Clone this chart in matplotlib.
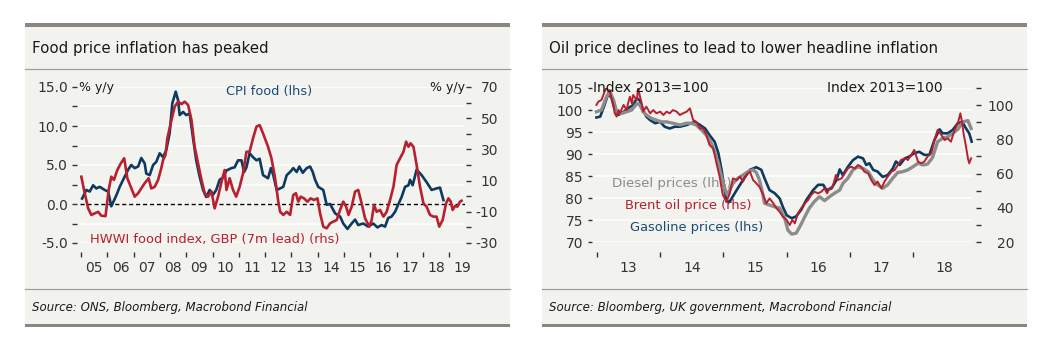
import matplotlib
matplotlib.use('Agg')
import matplotlib.pyplot as plt
import numpy as np
from matplotlib.patches import Rectangle
from matplotlib.lines import Line2D
from matplotlib.ticker import FuncFormatter

plt.rcParams['font.family'] = ['DejaVu Sans']
plt.rcParams['axes.unicode_minus'] = False

# ---------------- data: left chart ----------------
cpi_t = [2005.04, 2005.20, 2005.33, 2005.46, 2005.58, 2005.71, 2005.90, 2006.03, 2006.15, 2006.34,
         2006.47, 2006.60, 2006.79, 2006.91, 2007.04, 2007.17, 2007.29, 2007.42, 2007.48, 2007.61,
         2007.74, 2007.86, 2007.99, 2008.12, 2008.24, 2008.37, 2008.47, 2008.60, 2008.69, 2008.75,
         2008.88, 2009.00, 2009.13, 2009.26, 2009.38, 2009.51, 2009.64, 2009.76, 2009.89, 2010.02,
         2010.14, 2010.27, 2010.40, 2010.53, 2010.72, 2010.84, 2010.97, 2011.10, 2011.20, 2011.29,
         2011.41, 2011.54, 2011.67, 2011.79, 2011.92, 2012.11, 2012.22, 2012.31, 2012.44, 2012.57,
         2012.69, 2012.82, 2012.95, 2013.07, 2013.20, 2013.30, 2013.43, 2013.58, 2013.71, 2013.81,
         2013.90, 2014.02, 2014.21, 2014.34, 2014.47, 2014.66, 2014.85, 2014.97, 2015.13, 2015.29,
         2015.42, 2015.54, 2015.73, 2015.92, 2016.11, 2016.27, 2016.43, 2016.56, 2016.68, 2016.81,
         2016.94, 2017.07, 2017.19, 2017.32, 2017.45, 2017.51, 2017.61, 2017.76, 2017.95, 2018.14,
         2018.33, 2018.52, 2018.65, 2018.78]
cpi_v = [0.7, 1.8, 1.6, 2.4, 2.0, 2.2, 1.8, 1.6, -0.3, 1.1,
         2.2, 3.1, 4.4, 5.0, 4.6, 4.8, 5.9, 5.2, 3.9, 3.7,
         5.0, 5.4, 6.5, 6.0, 6.9, 9.1, 12.9, 14.4, 13.3, 11.4,
         11.8, 11.4, 11.6, 8.4, 5.6, 3.5, 1.8, 0.9, 1.8, 1.2,
         1.8, 3.1, 3.4, 4.3, 4.6, 4.7, 5.6, 5.6, 4.1, 4.7,
         6.5, 6.0, 5.6, 5.8, 3.7, 3.3, 4.6, 3.7, 1.8, 2.0,
         2.2, 3.7, 4.1, 4.6, 4.1, 4.8, 4.0, 4.6, 4.8, 4.1,
         3.1, 2.2, 1.8, -0.1, 0.0, -1.2, -1.6, -2.5, -3.2, -2.5,
         -2.0, -2.7, -2.5, -2.9, -2.5, -3.0, -2.7, -2.9, -1.8, -1.6,
         -1.0, 0.0, 0.9, 2.2, 2.4, 3.1, 2.4, 4.4, 3.7, 2.8,
         1.8, 2.0, 2.1, 0.5]

hwwi_t = [2005.01, 2005.14, 2005.27, 2005.39, 2005.52, 2005.65, 2005.77, 2005.93, 2006.05, 2006.15,
          2006.25, 2006.38, 2006.51, 2006.64, 2006.76, 2006.89, 2007.04, 2007.17, 2007.29, 2007.42,
          2007.57, 2007.67, 2007.80, 2007.93, 2008.05, 2008.12, 2008.21, 2008.28, 2008.41, 2008.56,
          2008.69, 2008.82, 2008.94, 2009.07, 2009.20, 2009.32, 2009.45, 2009.58, 2009.70, 2009.83,
          2009.96, 2010.08, 2010.21, 2010.36, 2010.46, 2010.53, 2010.65, 2010.78, 2010.90, 2011.03,
          2011.16, 2011.29, 2011.41, 2011.54, 2011.67, 2011.79, 2011.92, 2012.11, 2012.24, 2012.37,
          2012.44, 2012.50, 2012.57, 2012.69, 2012.82, 2012.95, 2013.07, 2013.17, 2013.26, 2013.35,
          2013.48, 2013.61, 2013.73, 2013.86, 2013.99, 2014.09, 2014.21, 2014.34, 2014.47, 2014.59,
          2014.72, 2014.85, 2014.97, 2015.08, 2015.17, 2015.29, 2015.42, 2015.54, 2015.67, 2015.80,
          2015.96, 2016.05, 2016.14, 2016.24, 2016.37, 2016.50, 2016.62, 2016.75, 2016.88, 2017.00,
          2017.13, 2017.26, 2017.36, 2017.45, 2017.53, 2017.64, 2017.76, 2017.89, 2018.02, 2018.14,
          2018.27, 2018.40, 2018.52, 2018.62, 2018.75, 2018.88, 2018.97, 2019.06, 2019.13, 2019.22,
          2019.31, 2019.41, 2019.47]
hwwi_v = [12.5, 1.9, -7.8, -12.0, -11.0, -10.0, -12.5, -12.8, 4.0, 12.5,
          10.4, 16.8, 21.0, 24.3, 11.5, 6.0, -0.3, 1.9, 5.0, 8.3,
          11.5, 5.0, 6.0, 10.4, 17.9, 23.2, 26.4, 37.0, 46.7, 57.4,
          60.6, 59.0, 60.6, 58.5, 48.8, 31.7, 21.0, 10.4, 1.9, -0.3,
          3.0, -7.8, -0.3, 10.4, 16.8, 4.0, 11.5, 4.0, -0.3, 6.0,
          14.7, 28.5, 28.5, 37.1, 44.6, 45.6, 40.3, 31.7, 24.3, 12.5,
          4.0, -3.5, -10.0, -12.0, -10.0, -12.0, 0.8, 1.9, -3.5, -0.3,
          -1.4, -3.5, -1.4, -2.4, -1.4, -11.0, -19.5, -20.6, -17.4, -16.3,
          -15.3, -8.8, -3.5, -6.7, -12.0, -6.7, 2.9, 4.0, -4.6, -14.2,
          -19.5, -15.3, -5.6, -10.0, -8.8, -13.1, -10.0, -2.4, 6.1, 20.0,
          24.3, 28.5, 35.0, 31.7, 33.9, 31.7, 20.0, 6.1, -4.6, -6.7,
          -12.0, -13.1, -13.1, -19.5, -15.3, -4.6, -1.4, -3.5, -8.8, -6.3,
          -6.7, -3.5, -2.9]

left_years = list(range(2005, 2020))
left_year_labels = ['05', '06', '07', '08', '09', '10', '11', '12', '13', '14', '15', '16', '17', '18', '19']

# ---------------- data: right chart ----------------
gas_t = [2012.99, 2013.05, 2013.10, 2013.18, 2013.23, 2013.28, 2013.34, 2013.42, 2013.49, 2013.57,
         2013.63, 2013.68, 2013.73, 2013.78, 2013.84, 2013.92, 2014.00, 2014.07, 2014.15, 2014.23,
         2014.31, 2014.42, 2014.49, 2014.55, 2014.63, 2014.71, 2014.78, 2014.86, 2014.92, 2014.97,
         2015.01, 2015.05, 2015.10, 2015.21, 2015.31, 2015.42, 2015.52, 2015.60, 2015.65, 2015.73,
         2015.81, 2015.89, 2015.94, 2016.00, 2016.08, 2016.15, 2016.23, 2016.31, 2016.42, 2016.50,
         2016.58, 2016.63, 2016.71, 2016.79, 2016.84, 2016.89, 2016.97, 2017.05, 2017.13, 2017.21,
         2017.26, 2017.31, 2017.37, 2017.44, 2017.52, 2017.60, 2017.68, 2017.73, 2017.79, 2017.87,
         2017.94, 2018.02, 2018.10, 2018.18, 2018.26, 2018.34, 2018.42, 2018.47, 2018.55, 2018.63,
         2018.71, 2018.78, 2018.84, 2018.89, 2018.93]
gas_v = [98.3, 98.5, 100.4, 103.8, 102.7, 100.0, 98.9, 99.6, 100.4, 101.1,
         102.7, 102.1, 100.0, 98.5, 97.7, 97.0, 97.3, 96.2, 95.8, 96.2,
         96.2, 96.6, 97.0, 97.3, 96.6, 95.8, 94.3, 92.8, 90.2, 86.4,
         82.6, 79.2, 79.2, 81.8, 84.1, 86.4, 87.0, 86.4, 84.5, 81.8,
         81.1, 79.9, 78.0, 76.1, 75.4, 75.8, 77.3, 79.5, 81.8, 83.0,
         83.0, 81.8, 82.2, 84.1, 86.5, 85.2, 87.1, 88.6, 89.4, 89.0,
         87.5, 87.9, 86.4, 86.0, 84.8, 85.2, 86.7, 88.3, 87.5, 89.0,
         89.4, 90.2, 90.5, 89.8, 89.8, 93.2, 95.6, 94.7, 94.7, 95.5,
         97.0, 97.3, 95.8, 94.7, 92.8]

diesel_t = [2012.99, 2013.07, 2013.15, 2013.20, 2013.26, 2013.31, 2013.39, 2013.47, 2013.55, 2013.63,
            2013.68, 2013.73, 2013.78, 2013.86, 2013.94, 2014.02, 2014.10, 2014.20, 2014.31, 2014.42,
            2014.49, 2014.57, 2014.65, 2014.73, 2014.81, 2014.86, 2014.92, 2014.97, 2015.02, 2015.06,
            2015.10, 2015.15, 2015.23, 2015.31, 2015.39, 2015.47, 2015.52, 2015.57, 2015.62, 2015.65,
            2015.73, 2015.81, 2015.89, 2015.97, 2016.02, 2016.08, 2016.15, 2016.21, 2016.29, 2016.36,
            2016.44, 2016.52, 2016.60, 2016.68, 2016.76, 2016.84, 2016.89, 2016.97, 2017.05, 2017.13,
            2017.21, 2017.29, 2017.37, 2017.44, 2017.52, 2017.60, 2017.68, 2017.76, 2017.84, 2017.92,
            2018.00, 2018.08, 2018.16, 2018.23, 2018.31, 2018.39, 2018.47, 2018.55, 2018.63, 2018.71,
            2018.79, 2018.87, 2018.92]
diesel_v = [99.6, 100.0, 103.0, 104.2, 102.3, 99.6, 99.2, 99.6, 100.0, 101.5,
            101.1, 99.6, 98.9, 98.1, 97.7, 97.3, 97.3, 97.0, 96.6, 97.0,
            97.0, 96.6, 95.5, 94.3, 92.4, 90.5, 87.9, 84.8, 82.2, 80.7,
            81.8, 83.3, 84.5, 85.2, 86.0, 86.4, 85.8, 84.1, 81.1, 78.8,
            78.4, 78.0, 77.7, 75.4, 72.7, 71.8, 72.0, 73.5, 75.8, 77.7,
            79.2, 80.3, 79.4, 80.3, 81.1, 81.8, 83.3, 84.5, 86.4, 87.1,
            86.7, 86.0, 84.1, 83.0, 82.2, 83.0, 84.5, 85.8, 86.0, 86.4,
            87.1, 87.9, 87.5, 87.7, 89.2, 92.8, 93.6, 93.9, 94.7, 95.6,
            97.3, 97.6, 95.8]

brent_t = [2012.99, 2013.02, 2013.07, 2013.13, 2013.15, 2013.18, 2013.20, 2013.23, 2013.26, 2013.28,
           2013.31, 2013.34, 2013.36, 2013.42, 2013.47, 2013.49, 2013.52, 2013.55, 2013.57, 2013.63,
           2013.65, 2013.68, 2013.70, 2013.73, 2013.78, 2013.84, 2013.89, 2013.94, 2014.00, 2014.05,
           2014.10, 2014.15, 2014.20, 2014.26, 2014.31, 2014.36, 2014.42, 2014.47, 2014.52, 2014.57,
           2014.63, 2014.68, 2014.73, 2014.78, 2014.84, 2014.89, 2014.94, 2014.99, 2015.05, 2015.10,
           2015.15, 2015.21, 2015.26, 2015.31, 2015.36, 2015.42, 2015.47, 2015.52, 2015.57, 2015.63,
           2015.68, 2015.73, 2015.79, 2015.84, 2015.89, 2015.94, 2016.00, 2016.05, 2016.09, 2016.13,
           2016.18, 2016.23, 2016.29, 2016.34, 2016.39, 2016.44, 2016.50, 2016.55, 2016.60, 2016.64,
           2016.68, 2016.73, 2016.78, 2016.81, 2016.87, 2016.92, 2016.97, 2017.02, 2017.08, 2017.13,
           2017.18, 2017.23, 2017.29, 2017.34, 2017.39, 2017.44, 2017.50, 2017.55, 2017.60, 2017.66,
           2017.71, 2017.76, 2017.81, 2017.87, 2017.92, 2017.97, 2018.02, 2018.08, 2018.13, 2018.18,
           2018.23, 2018.29, 2018.34, 2018.39, 2018.45, 2018.50, 2018.55, 2018.60, 2018.66, 2018.71,
           2018.75, 2018.78, 2018.80, 2018.83, 2018.87, 2018.89, 2018.92]
brent_v = [100.1, 102.0, 103.0, 108.8, 110.5, 107.9, 108.8, 104.0, 100.1, 95.2,
           93.3, 97.1, 95.2, 100.1, 97.1, 101.0, 104.9, 101.0, 105.9, 103.0,
           109.8, 104.9, 102.0, 96.2, 99.1, 95.2, 97.1, 95.2, 96.2, 94.2,
           96.2, 95.2, 97.1, 96.2, 94.2, 95.2, 96.2, 98.1, 91.3, 90.3,
           86.4, 86.4, 82.5, 76.7, 74.7, 66.0, 58.2, 47.5, 43.6, 48.4,
           57.2, 56.2, 58.2, 55.3, 59.2, 61.1, 56.2, 54.3, 52.3, 47.5,
           42.6, 45.5, 42.6, 39.7, 37.7, 34.8, 32.9, 29.9, 32.9, 30.9,
           36.8, 39.7, 42.6, 44.5, 47.5, 49.4, 48.4, 49.4, 51.4, 48.4,
           51.4, 52.3, 59.2, 56.2, 57.2, 60.1, 63.0, 64.0, 63.0, 65.0,
           64.0, 61.1, 60.1, 56.2, 53.3, 55.3, 51.4, 55.3, 58.2, 61.1,
           62.1, 65.0, 67.9, 68.9, 67.9, 70.8, 73.8, 67.0, 66.0, 67.0,
           69.9, 71.8, 79.6, 85.5, 82.5, 79.6, 80.6, 78.6, 85.5, 89.4,
           95.2, 89.4, 83.5, 77.7, 68.9, 66.0, 68.9]

right_years = list(range(2013, 2019))
right_year_labels = ['13', '14', '15', '16', '17', '18']

# ---------------- styling ----------------
W, H = 1045, 346
fig = plt.figure(figsize=(W / 100, H / 100), dpi=100)
fig.patch.set_facecolor('white')
PT = 72 / 100.0


def fx(x):
    return x / W


def fy(y):
    return 1 - y / H


BG = '#f2f2ee'
BAR = '#8b8682'
SEP = '#a09b97'
BLUE = '#0e3a5f'
RED = '#b8202f'
GREY = '#8c8c8c'
TXT = '#1a1a1a'
TICK = '#333333'


def panel(x0, x1, title, source):
    fig.add_artist(Rectangle((fx(x0), fy(325)), fx(x1) - fx(x0), fy(26) - fy(325),
                             transform=fig.transFigure, facecolor=BG, edgecolor='none', zorder=0))
    fig.add_artist(Rectangle((fx(x0), fy(27)), fx(x1) - fx(x0), 4 / H,
                             transform=fig.transFigure, facecolor=BAR, edgecolor='none', zorder=1))
    fig.add_artist(Rectangle((fx(x0), fy(327)), fx(x1) - fx(x0), 3.5 / H,
                             transform=fig.transFigure, facecolor=BAR, edgecolor='none', zorder=1))
    for yy in (68.5, 288.5):
        fig.add_artist(Line2D([fx(x0), fx(x1)], [fy(yy), fy(yy)], transform=fig.transFigure,
                              color=SEP, lw=1.0 * PT * 1.2, zorder=1))
    fig.text(fx(x0 + 7), fy(48), title, fontsize=10.8, color=TXT, va='center', ha='left')
    fig.text(fx(x0 + 7), fy(307), source, fontsize=8.5, style='italic', color=TXT,
             va='center', ha='left')


panel(25, 510, 'Food price inflation has peaked', 'Source: ONS, Bloomberg, Macrobond Financial')
panel(542, 1027, 'Oil price declines to lead to lower headline inflation',
      'Source: Bloomberg, UK government, Macrobond Financial')


def style_axes(ax, left_out, bottom_out):
    ax.patch.set_alpha(0)
    for s in ax.spines.values():
        s.set_visible(False)
    ax.spines['left'].set_position(('outward', left_out * PT))
    ax.spines['bottom'].set_position(('outward', bottom_out * PT))


def year_axis(ax, years, labels):
    ax.set_xticks(years)
    ax.set_xticklabels([''] * len(years))
    ax.set_xticks([y + 0.5 for y in years], minor=True)
    ax.set_xticklabels(labels, minor=True)
    ax.tick_params(axis='x', which='major', direction='out', length=5 * PT, width=1.0, color=TICK)
    ax.tick_params(axis='x', which='minor', length=0, pad=9.5 * PT, labelsize=10, labelcolor=TICK)


# ---------------- left chart ----------------
ax = fig.add_axes([fx(80), fy(243), fx(465) - fx(80), fy(87) - fy(243)])
style_axes(ax, 3.3, 9)
ax.set_xlim(2004.96, 2019.6)
ax.set_ylim(-5, 15)
ax.set_yticks(np.arange(-5, 15.01, 2.5))
ax.yaxis.set_major_formatter(FuncFormatter(lambda v, p: f'{v:.1f}' if abs(v / 5 - round(v / 5)) < 1e-9 else ''))
ax.tick_params(axis='y', direction='out', length=5 * PT, width=1.0, color=TICK, pad=3.7 * PT,
               labelsize=10, labelcolor=TICK)
ax.grid(axis='y', color='white', lw=1.5 * PT)
ax.set_axisbelow(True)
year_axis(ax, left_years, left_year_labels)
ax.axhline(0, color='black', lw=1.0, ls=(0, (3, 2)), zorder=1.5)
ax.plot(cpi_t, cpi_v, color=BLUE, lw=1.9, solid_joinstyle='round', zorder=2)

ax2 = ax.twinx()
style_axes(ax2, 0, 9)
ax2.spines['right'].set_position(('outward', 1 * PT))
ax2.set_ylim(-30, 70)
r_ticks = list(range(-30, 71, 10))
ax2.set_yticks(r_ticks)
ax2.set_yticklabels([str(t) if (t // 10) % 2 != 0 else '' for t in r_ticks])
ax2.tick_params(axis='y', direction='out', length=5 * PT, width=1.0, color=TICK, pad=27 * PT,
                labelsize=10, labelcolor=TICK)
for lab in ax2.get_yticklabels():
    lab.set_horizontalalignment('right')
ax2.plot(hwwi_t, hwwi_v, color=RED, lw=1.9, solid_joinstyle='round', zorder=2)

fig.text(fx(79), fy(88), '% y/y', fontsize=9, color=TXT, ha='left', va='center')
fig.text(fx(465), fy(88), '% y/y', fontsize=9, color=TXT, ha='right', va='center')
fig.text(fx(269), fy(91), 'CPI food (lhs)', fontsize=9.3, color='#1b4a78', ha='center', va='center')
fig.text(fx(90), fy(239), 'HWWI food index, GBP (7m lead) (rhs)', fontsize=9.4, color=RED,
         ha='left', va='center')

# ---------------- right chart ----------------
bx = fig.add_axes([fx(592), fy(242), fx(973) - fx(592), fy(88) - fy(242)])
style_axes(bx, 0, 9.7)
bx.set_xlim(2012.92, 2018.95)
bx.set_ylim(70, 105)
bx.set_yticks(list(range(70, 106, 5)))
bx.tick_params(axis='y', direction='out', length=4.5 * PT, width=1.0, color=TICK, pad=4.6 * PT,
               labelsize=10, labelcolor=TICK)
bx.grid(axis='y', color='white', lw=1.5 * PT)
bx.set_axisbelow(True)
year_axis(bx, right_years, right_year_labels)

bx.text(fx(612), fy(183), 'Diesel prices (lhs)', transform=fig.transFigure, fontsize=9.6,
        color=GREY, ha='left', va='center', zorder=1)
bx.text(fx(625), fy(206), 'Brent oil price (rhs)', transform=fig.transFigure, fontsize=9.4,
        color=RED, ha='left', va='center', zorder=1)
bx.text(fx(630), fy(228), 'Gasoline prices (lhs)', transform=fig.transFigure, fontsize=9.4,
        color='#1b4a78', ha='left', va='center', zorder=1)

bx.plot(gas_t, gas_v, color=BLUE, lw=1.9, solid_joinstyle='round', zorder=2)
bx.plot(diesel_t, diesel_v, color=GREY, lw=2.4, solid_joinstyle='round', zorder=3)

bx2 = bx.twinx()
style_axes(bx2, 0, 9.7)
bx2.spines['right'].set_position(('outward', 3 * PT))
bx2.set_ylim(20, 110)
rb_ticks = list(range(20, 111, 10))
bx2.set_yticks(rb_ticks)
bx2.set_yticklabels([str(t) if t % 20 == 0 else '' for t in rb_ticks])
bx2.tick_params(axis='y', direction='out', length=5 * PT, width=1.0, color=TICK, pad=33 * PT,
                labelsize=10, labelcolor=TICK)
for lab in bx2.get_yticklabels():
    lab.set_horizontalalignment('right')
bx2.plot(brent_t, brent_v, color=RED, lw=1.4, solid_joinstyle='round', zorder=2)

fig.text(fx(593), fy(88), 'Index 2013=100', fontsize=10, color=TXT, ha='left', va='center')
fig.text(fx(827), fy(88), 'Index 2013=100', fontsize=10, color=TXT, ha='left', va='center')

fig.savefig('out.png', dpi=100, facecolor='white')
